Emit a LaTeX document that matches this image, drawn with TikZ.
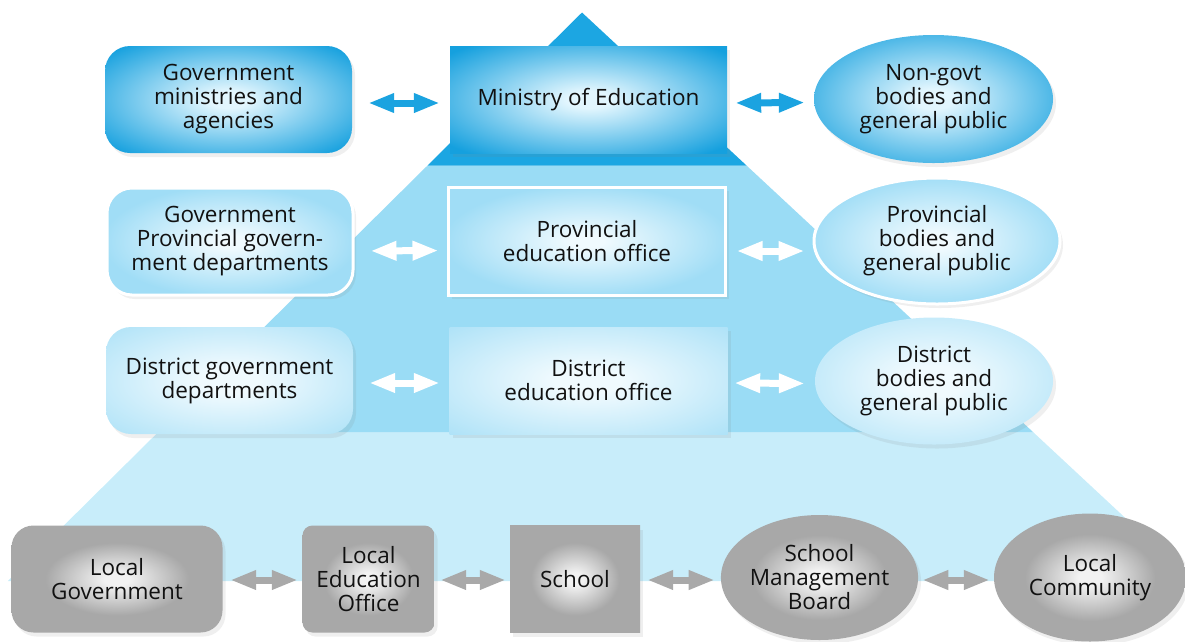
\documentclass[tikz,border=0pt]{standalone}
\usepackage{fontspec}
\setmainfont{Open Sans}
\usetikzlibrary{shapes.geometric,arrows.meta,shadows}

\definecolor{pyrA}{HTML}{1CA6E2}
\definecolor{pyrB}{HTML}{9ADCF5}
\definecolor{pyrC}{HTML}{C8EDFA}
\definecolor{blueD}{HTML}{15A0DE}
\definecolor{blueDin}{HTML}{E2F6FE}
\definecolor{blueM}{HTML}{A0DDF6}
\definecolor{blueMin}{HTML}{F0FAFE}
\definecolor{greyN}{HTML}{A8A8A8}
\definecolor{greyNin}{HTML}{F2F2F2}
\definecolor{txt}{HTML}{111111}
\definecolor{arrD}{HTML}{1BA3E0}
\definecolor{arrG}{HTML}{A9A9A9}

\pgfdeclareradialshading{glowA}{\pgfpointorigin}{color(0bp)=(blueDin);color(4bp)=(blueDin);color(33bp)=(blueD);color(50bp)=(blueD)}
\pgfdeclareradialshading{glowB}{\pgfpointorigin}{color(0bp)=(blueMin);color(3bp)=(blueMin);color(26bp)=(blueM);color(50bp)=(blueM)}
\pgfdeclareradialshading{glowC}{\pgfpointorigin}{color(0bp)=(blueMin);color(6bp)=(blueMin);color(42bp)=(blueM);color(50bp)=(blueM)}
\pgfdeclareradialshading{glowD}{\pgfpointorigin}{color(0bp)=(greyNin);color(3bp)=(greyNin);color(17bp)=(greyN);color(50bp)=(greyN)}

\tikzset{
  base/.style={align=center, text=txt, inner sep=0pt,
    font=\fontsize{22.5}{24}\selectfont,
    drop shadow={shadow xshift=3pt,shadow yshift=-4pt,opacity=0.13}},
  lvA/.style={base, shading=glowA},
  lvB/.style={base, shading=glowB, draw=white, line width=3pt},
  lvC/.style={base, shading=glowC},
  lvD/.style={base, shading=glowD},
  oval/.style={ellipse},
  biarrow/.style={line width=7pt,
    {Triangle[length=26pt,width=18pt]}-{Triangle[length=26pt,width=18pt]}},
  arrA/.style={biarrow, draw=arrD},
  arrW/.style={biarrow, draw=white},
  arrG/.style={biarrow, draw=arrG},
}

\begin{document}
\begin{tikzpicture}[x=1pt,y=-1pt]
\useasboundingbox (0,0) rectangle (1185,641);
\clip (0,0) rectangle (1185,641);

% pyramid bands
\fill[pyrC] (158.3,432) -- (1033,432) -- (1193,581) -- (7.8,581) -- cycle;
\fill[pyrB] (427.5,165.5) -- (746.5,165.5) -- (1033,432) -- (158.3,432) -- cycle;
\fill[pyrA] (582,12.5) -- (746.5,165.5) -- (427.5,165.5) -- cycle;

% row 1
\node[lvA, rounded corners=25pt, minimum width=247pt, minimum height=107pt] (govmin) at (228.5,99.5) {Government\\ministries and\\agencies};
\node[lvA, minimum width=277pt, minimum height=107pt] (moe) at (588.5,99.5) {Ministry of Education};
\node[lvA, oval, minimum width=239pt, minimum height=128pt] (nongovt) at (933.5,99) {Non-govt\\bodies and\\general public};

% row 2
\node[lvB, rounded corners=25pt, minimum width=246pt, minimum height=107pt] (govprov) at (230,241.5) {Government\\Provincial govern-\\ment departments};
\node[lvB, minimum width=277pt, minimum height=108pt] (provedu) at (587,241) {Provincial\\education office};
\node[lvB, oval, minimum width=246pt, minimum height=126pt] (provbod) at (937,241) {Provincial\\bodies and\\general public};

% row 3
\node[lvC, rounded corners=25pt, minimum width=247pt, minimum height=107pt] (distgov) at (229.5,380.5) {District government\\departments};
\node[lvC, minimum width=278pt, minimum height=107pt] (distedu) at (588.5,380.5) {District\\education office};
\node[lvC, oval, minimum width=238pt, minimum height=127pt] (distbod) at (934,381) {District\\bodies and\\general public};

% row 4
\node[lvD, rounded corners=22pt, minimum width=211pt, minimum height=107pt] (localgov) at (117,579) {Local\\Government};
\node[lvD, rounded corners=10pt, minimum width=132pt, minimum height=107pt] (leo) at (368.5,579) {Local\\Education\\Office};
\node[lvD, minimum width=130pt, minimum height=107pt] (school) at (575,579) {School};
\node[lvD, oval, minimum width=193pt, minimum height=125pt] (smb) at (819.5,577.5) {School\\Management\\Board};
\node[lvD, oval, minimum width=192pt, minimum height=128pt] (lcomm) at (1090,577.5) {Local\\Community};

% connectors
\draw[arrA, shorten <=16pt, shorten >=10pt] ([yshift=-3.5pt]govmin.east) -- ([yshift=-3.5pt]moe.west);
\draw[arrA, shorten <=8pt, shorten >=9pt] ([yshift=-3.5pt]moe.east) -- ([yshift=-3.5pt]nongovt.west);
\draw[arrW, shorten <=16pt, shorten >=8.5pt] ([yshift=-9.5pt]govprov.east) -- ([yshift=-9.5pt]provedu.west);
\draw[arrW, shorten <=9.5pt, shorten >=8pt] ([yshift=-10pt]provedu.east) -- ([yshift=-10pt]provbod.west);
\draw[arrW, shorten <=16pt, shorten >=9.5pt] ([yshift=-2.5pt]distgov.east) -- ([yshift=-2.5pt]distedu.west);
\draw[arrW, shorten <=6.5pt, shorten >=10pt] ([yshift=-2.5pt]distedu.east) -- ([yshift=-2.5pt]distbod.west);
\draw[arrG, shorten <=7.5pt, shorten >=4.5pt] ([yshift=-1pt]localgov.east) -- ([yshift=-1pt]leo.west);
\draw[arrG, shorten <=5.5pt, shorten >=4pt] ([yshift=-1pt]leo.east) -- ([yshift=-1pt]school.west);
\draw[arrG, shorten <=7pt, shorten >=6pt] ([yshift=-1pt]school.east) -- ([yshift=-2.5pt]smb.west);
\draw[arrG, shorten <=4pt, shorten >=4pt] ([yshift=-2.5pt]smb.east) -- ([yshift=-2.5pt]lcomm.west);
\end{tikzpicture}
\end{document}
